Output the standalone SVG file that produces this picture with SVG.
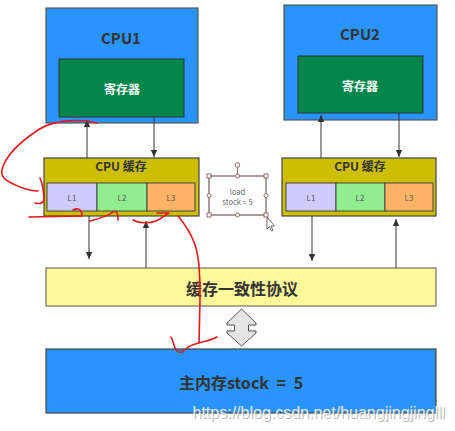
<svg xmlns="http://www.w3.org/2000/svg" width="455" height="431" viewBox="0 0 455 431">
<defs>
<marker id="ah" markerWidth="8" markerHeight="8" refX="7" refY="4" orient="auto" markerUnits="userSpaceOnUse">
<path d="M0,0.8 L7,4 L0,7.2 Z" fill="#333"/>
</marker>
<style>
.t{font-family:"Noto Sans CJK SC","Noto Sans",sans-serif;text-anchor:middle;dominant-baseline:central}
.cpu{fill:#2994fd;stroke:#555;stroke-width:1.2}
.reg{fill:#00854a;stroke:#333;stroke-width:1}
.cache{fill:#cdbf00;stroke:#444;stroke-width:1.2}
.lb{stroke:#444;stroke-width:1}
.conn{stroke:#333;stroke-width:1;fill:none;marker-end:url(#ah)}
.red{stroke:#e8141a;stroke-width:1.6;fill:none;stroke-linecap:round;stroke-linejoin:round}
.h{fill:#fff;stroke:#7a4a4a;stroke-width:0.8}
</style>
</defs>
<rect width="455" height="431" fill="#fff"/>

<g id="cpu1">
<rect class="cpu" x="46" y="8" width="152" height="115"/>
<text class="t" x="121" y="37" font-size="15" font-weight="bold" fill="#333">CPU1</text>
</g>
<g id="reg1">
<rect class="reg" x="59" y="59" width="125" height="58"/>
<text class="t" x="122" y="88" font-size="12" font-weight="bold" fill="#fff">寄存器</text>
</g>
<g id="cache1">
<rect class="cache" x="44" y="158" width="155" height="58"/>
<text class="t" x="121" y="165" font-size="12" font-weight="bold" fill="#333">CPU 缓存</text>
<rect class="lb" x="47" y="183" width="50" height="28" fill="#ccccff"/>
<rect class="lb" x="97" y="183" width="50" height="28" fill="#90ee90"/>
<rect class="lb" x="147" y="183" width="48" height="28" fill="#ffb366"/>
<text class="t" x="72" y="197" font-size="8" fill="#555">L1</text>
<text class="t" x="122" y="197" font-size="8" fill="#555">L2</text>
<text class="t" x="171" y="197" font-size="8" fill="#555">L3</text>
</g>

<g id="cpu2">
<rect class="cpu" x="284" y="5" width="153" height="115"/>
<text class="t" x="360" y="33" font-size="15" font-weight="bold" fill="#333">CPU2</text>
</g>
<g id="reg2">
<rect class="reg" x="298" y="56" width="125" height="57"/>
<text class="t" x="360" y="85" font-size="12" font-weight="bold" fill="#fff">寄存器</text>
</g>
<g id="cache2">
<rect class="cache" x="282" y="158" width="154" height="58"/>
<text class="t" x="360" y="165" font-size="12" font-weight="bold" fill="#333">CPU 缓存</text>
<rect class="lb" x="286" y="183" width="50" height="28" fill="#ccccff"/>
<rect class="lb" x="336" y="183" width="49" height="28" fill="#90ee90"/>
<rect class="lb" x="385" y="183" width="48" height="28" fill="#ffb366"/>
<text class="t" x="311" y="197" font-size="8" fill="#555">L1</text>
<text class="t" x="360" y="197" font-size="8" fill="#555">L2</text>
<text class="t" x="409" y="197" font-size="8" fill="#555">L3</text>
</g>

<g id="protocol">
<rect x="46" y="268" width="390" height="38" fill="#fff99b" stroke="#555" stroke-width="1"/>
<text class="t" x="242" y="288" font-size="16" font-weight="bold" fill="#333">缓存一致性协议</text>
</g>

<g id="bus">
<path d="M241.5,309 L256,323 L256,325 L248.5,325 L248.5,331 L256,331 L256,333 L241.5,346 L227,333 L227,331 L234.5,331 L234.5,325 L227,325 L227,323 Z" fill="#e4e4e4" stroke="#555" stroke-width="1" stroke-linejoin="miter"/>
</g>

<g id="memory">
<rect x="46" y="349" width="390" height="64" fill="#2994fd" stroke="#444" stroke-width="1.2"/>
<text class="t" x="241" y="382" font-size="16" font-weight="bold" fill="#333" word-spacing="4">主内存stock = 5</text>
</g>

<g id="connectors">
<line class="conn" x1="87" y1="158" x2="87" y2="120"/>
<line class="conn" x1="154" y1="117" x2="154" y2="157"/>
<line class="conn" x1="321" y1="158" x2="321" y2="115"/>
<line class="conn" x1="399" y1="113" x2="399" y2="157"/>
<line class="conn" x1="89" y1="216" x2="89" y2="259"/>
<line class="conn" x1="146" y1="268" x2="146" y2="221"/>
<line class="conn" x1="312" y1="216" x2="312" y2="261"/>
<line class="conn" x1="396" y1="268" x2="396" y2="219"/>
</g>

<g id="selected-note">
<line x1="237.5" y1="167" x2="237.5" y2="176" stroke="#7a4a4a" stroke-width="0.8"/>
<rect x="209" y="176" width="57" height="39" fill="#fff" stroke="#5a3a3a" stroke-width="1"/>
<text class="t" x="237.5" y="191" font-size="7.5" fill="#666">load</text>
<text class="t" x="237.5" y="201" font-size="7.5" fill="#666">stock = 5</text>
<circle class="h" cx="237.5" cy="165" r="2.3"/>
<circle class="h" cx="237.5" cy="176" r="2"/>
<circle class="h" cx="237.5" cy="215" r="2"/>
<circle class="h" cx="209" cy="195.5" r="2"/>
<circle class="h" cx="266" cy="195.5" r="2"/>
<rect class="h" x="207" y="174" width="4" height="4"/>
<rect class="h" x="264" y="174" width="4" height="4"/>
<rect class="h" x="207" y="213" width="4" height="4"/>
<rect class="h" x="264" y="213" width="4" height="4"/>
<path d="M267,217 L267,229 L269.5,226.5 L271.5,231 L273,230.3 L271,226 L274.5,226 Z" fill="#fff" stroke="#333" stroke-width="0.7"/>
</g>

<g id="annotations">
<path class="red" d="M97,123 C80,119 55,119 38,130 C20,142 5,156 2,170 C0,178 8,182 20,187 C28,190 34,191 38,191"/>
<path class="red" d="M40,178 C43,185 44,195 44,200 C43,204 38,204 35,203"/>
<path class="red" d="M29,217 L82,216 M73,210 C77,208 81,208 82,215"/>
<path class="red" d="M90,221 C98,219 108,216 113,212 C117,210 118,214 118,220"/>
<path class="red" d="M133,220 C138,223 148,224 156,221 C161,219 165,215 169,213 M157,213 L169,213"/>
<path class="red" d="M178,216 C183,222 190,232 194,242 C199,255 200,270 200,300 L199,343 C193,344 186,348 182,352 C178,353 175,350 174,345 C173,341 172,339 171,337 M199,343 C205,341 212,340 217,337"/>
</g>

<g id="watermark" font-family="Liberation Sans, Arial, sans-serif" font-size="16">
<text x="193.5" y="418.5" fill="#888" opacity="0.6">https://blog.csdn.net/huangjingjinglll</text>
<text x="192.5" y="417.5" fill="#fff" opacity="0.85">https://blog.csdn.net/huangjingjinglll</text>
</g>
</svg>
